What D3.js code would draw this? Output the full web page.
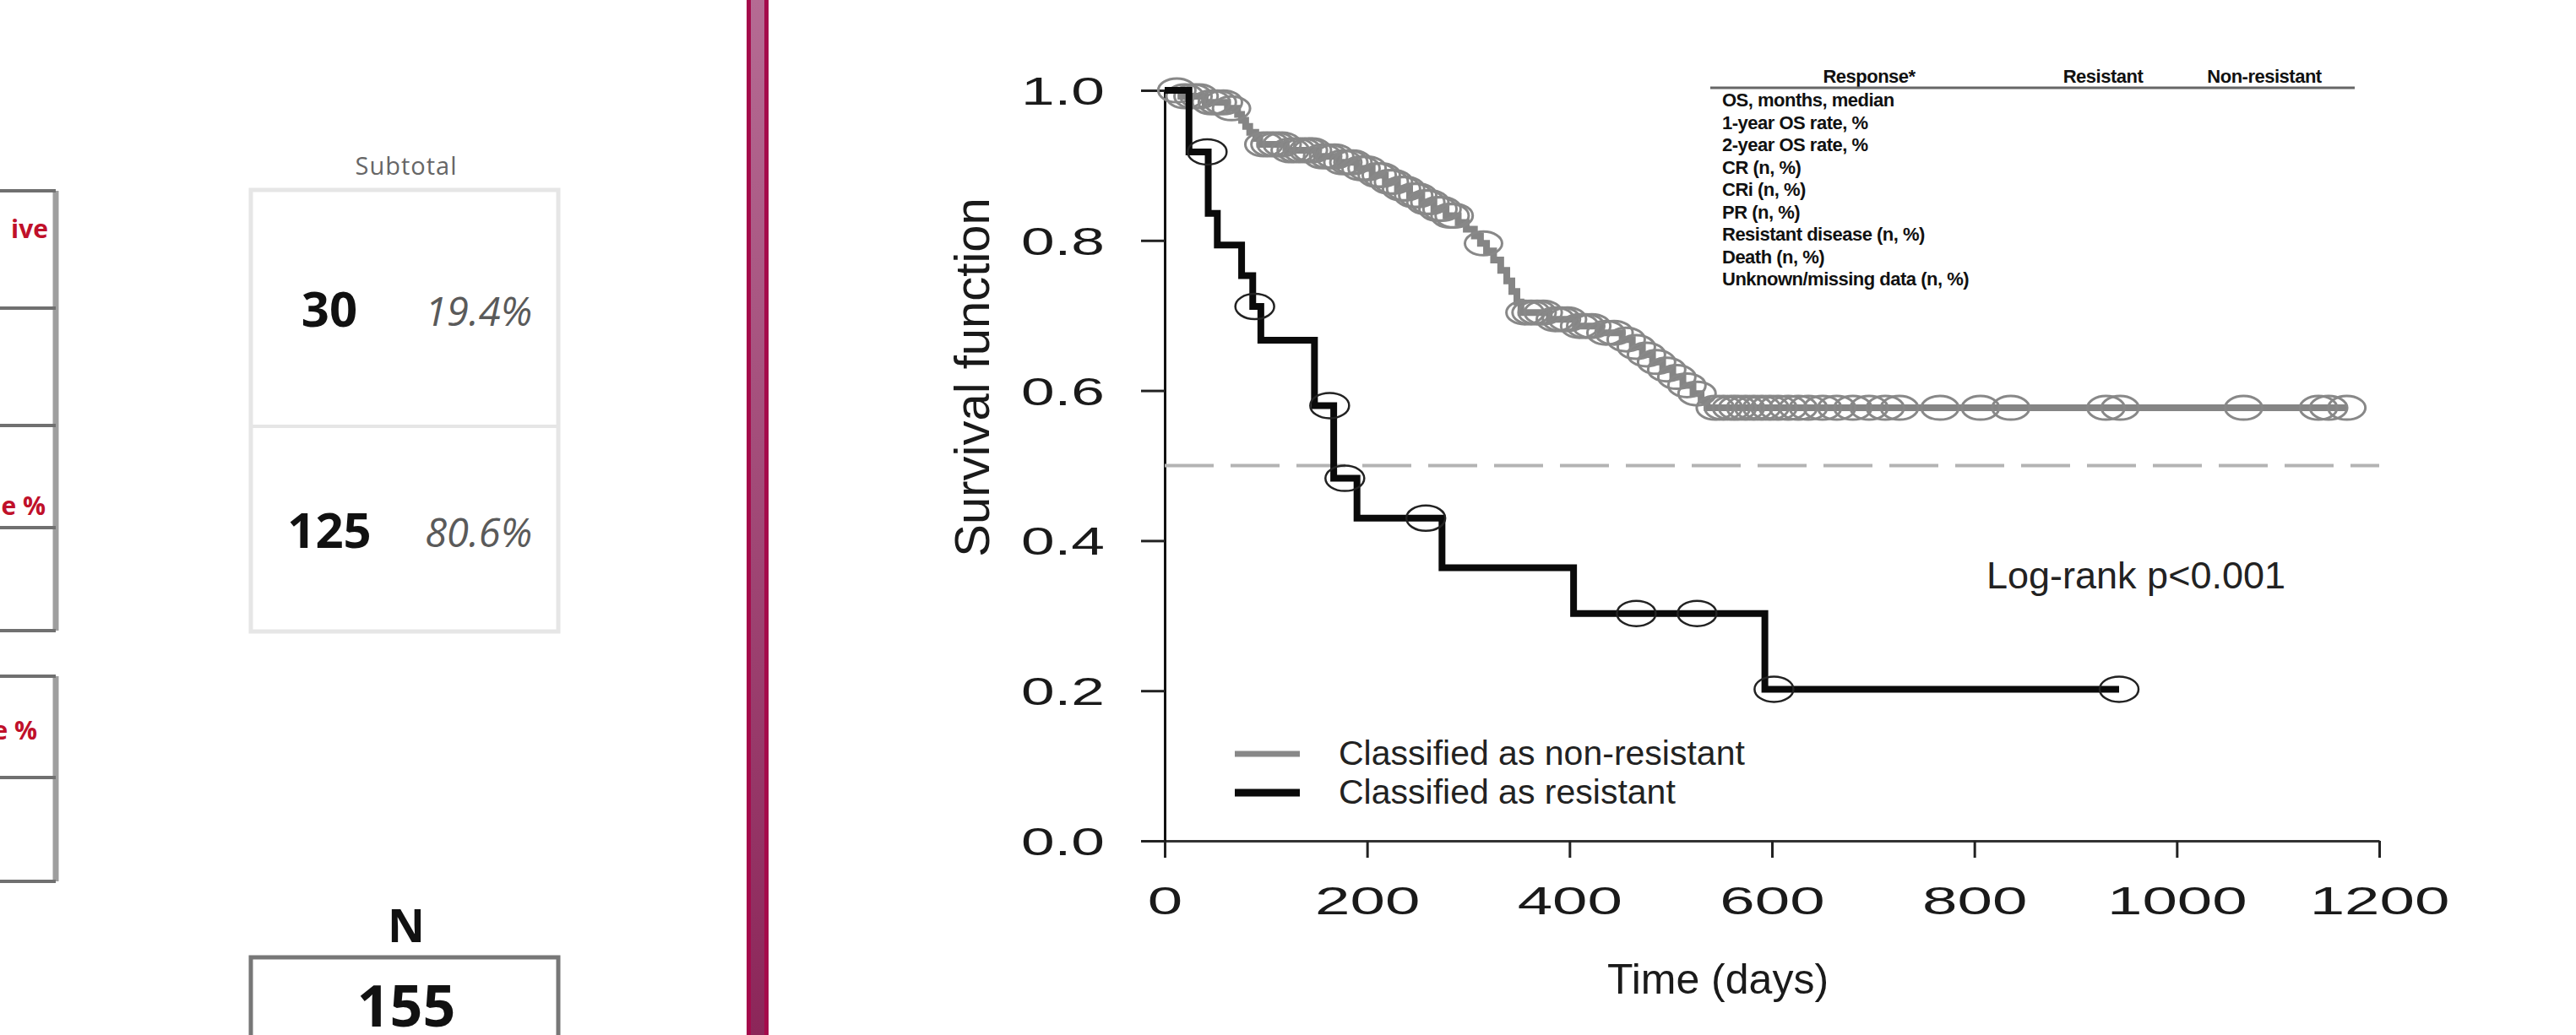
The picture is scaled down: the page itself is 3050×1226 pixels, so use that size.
<!DOCTYPE html>
<html>
<head>
<meta charset="utf-8">
<script src="https://cdn.jsdelivr.net/npm/d3@7"></script>
<style>
body { margin: 0; background: #fff; }
svg { display: block; }
</style>
</head>
<body>
<script>
const width = 3050;
const height = 1226;
const font = "'Liberation Sans', Arial, sans-serif";
const cellFont = "'Open Sans', 'Noto Sans', sans-serif";

// resistant arm (black curve): step times and survival after each step
const resTime = [0, 24, 43, 52, 76, 87, 95, 148, 167, 190, 274, 404, 593];
const resSurv = [1.0, 0.918, 0.836, 0.794, 0.753, 0.712, 0.667, 0.58, 0.483, 0.43, 0.364, 0.303, 0.202];
const resEnd = 943;
const resCensor = [42, 89, 163, 178, 258, 466, 526, 602, 943];

// non-resistant arm (grey curve)
const nonTime = [0, 16, 40, 62, 72, 76, 80, 84, 90, 94, 120, 150, 172, 190, 205, 218, 230, 242, 254, 266, 278,
    290, 298, 306, 312, 318, 325, 332, 338, 343, 348, 352, 380, 406, 430, 452, 462, 472, 482, 492, 502, 512, 522, 530, 536];
const nonSurv = [1.0, 0.992, 0.984, 0.976, 0.968, 0.96, 0.952, 0.944, 0.936, 0.928, 0.92, 0.912, 0.904, 0.896, 0.887, 0.878, 0.869, 0.86, 0.851, 0.842, 0.833,
    0.824, 0.815, 0.806, 0.796, 0.786, 0.774, 0.76, 0.746, 0.732, 0.718, 0.704, 0.695, 0.686, 0.677, 0.668, 0.658, 0.648, 0.638, 0.628, 0.618, 0.607, 0.596, 0.587, 0.577];
const nonEnd = 1168;
const nonCensor = [12, 20, 28, 34, 46, 52, 58, 66, 98, 104, 110, 116, 124, 130, 136, 142, 146, 156, 162, 168,
    176, 182, 186, 194, 200, 210, 214, 222, 226, 234, 238, 246, 250, 258, 262, 270, 274, 282, 286,
    315, 356, 362, 368, 374, 386, 392, 398, 410, 416, 422, 436, 444, 456, 466, 476, 486, 496, 506, 516, 526,
    544, 552, 560, 566, 574, 582, 590, 598, 606, 616, 626, 636, 650, 664, 680, 696, 712, 726, 766, 806, 836,
    930, 944, 1066, 1140, 1150, 1168];

const xTicks = [0, 200, 400, 600, 800, 1000, 1200];
const yTicks = [0, 0.2, 0.4, 0.6, 0.8, 1.0];
const medianLine = 0.5;
const legendLabels = ["Classified as non-resistant", "Classified as resistant"];
const pText = "Log-rank p<0.001";

const tableHead = ["Response*", "Resistant", "Non-resistant"];
const tableRows = ["OS, months, median", "1-year OS rate, %", "2-year OS rate, %", "CR  (n, %)", "CRi (n, %)",
    "PR (n, %)", "Resistant disease (n, %)", "Death (n, %)", "Unknown/missing data (n, %)"];

const subtotalN = [30, 125];
const subtotalPct = ["19.4%", "80.6%"];
const totalN = 155;
const sideLabels = ["ive", "e %", "e %"];

let svg = d3.select("body")
    .append("svg")
    .attr("width", width)
    .attr("height", height)
    .style("background", "#fff");

// ---------- left panel ----------
let left = svg.append("g");

let grad = svg.append("defs").append("linearGradient")
    .attr("id", "barGrad").attr("x1", 0).attr("y1", 0).attr("x2", 0).attr("y2", 1);
grad.append("stop").attr("offset", "0%").attr("stop-color", "#b56b93");
grad.append("stop").attr("offset", "100%").attr("stop-color", "#8c2659");

left.append("rect").attr("x", 884).attr("y", 0).attr("width", 26).attr("height", height).attr("fill", "#a50a4b");
left.append("rect").attr("x", 889).attr("y", 0).attr("width", 16).attr("height", height).attr("fill", "url(#barGrad)");

// fragment of the table cut at the left edge
[[226, 365, 504, 625, 747], [801, 921, 1044]].forEach(function(ys){
    left.append("line")
        .attr("x1", 66).attr("x2", 66)
        .attr("y1", ys[0]).attr("y2", ys[ys.length - 1])
        .attr("stroke", "#9e9e9e").attr("stroke-width", 7);
    left.selectAll(null).data(ys).enter().append("line")
        .attr("x1", 0).attr("x2", 66)
        .attr("y1", (d)=>d).attr("y2", (d)=>d)
        .attr("stroke", "#707070").attr("stroke-width", 4);
});

left.selectAll(".side").data(sideLabels).enter().append("text")
    .attr("class", "side")
    .attr("x", (d, i)=>[57, 54, 44][i])
    .attr("y", (d, i)=>[282, 610, 876][i])
    .attr("text-anchor", "end")
    .attr("font-family", cellFont).attr("font-weight", "bold").attr("font-size", 30)
    .attr("fill", "#c0102a")
    .text((d)=>d);

// subtotal box
left.append("text").attr("x", 481).attr("y", 207).attr("text-anchor", "middle")
    .attr("font-family", cellFont).attr("font-size", 29).attr("letter-spacing", 1)
    .attr("fill", "#666").text("Subtotal");
left.append("rect").attr("x", 297).attr("y", 225).attr("width", 364).attr("height", 523)
    .attr("fill", "none").attr("stroke", "#e6e6e6").attr("stroke-width", 5);
left.append("line").attr("x1", 297).attr("x2", 661).attr("y1", 505).attr("y2", 505)
    .attr("stroke", "#e6e6e6").attr("stroke-width", 4);

let cellY = [387, 649];
left.selectAll(".sn").data(subtotalN).enter().append("text")
    .attr("class", "sn")
    .attr("x", 390).attr("y", (d, i)=>cellY[i])
    .attr("text-anchor", "middle")
    .attr("font-family", cellFont).attr("font-weight", "bold").attr("font-size", 58)
    .attr("fill", "#111").text((d)=>d);
left.selectAll(".sp").data(subtotalPct).enter().append("text")
    .attr("class", "sp")
    .attr("x", 630).attr("y", (d, i)=>cellY[i] - 1)
    .attr("text-anchor", "end")
    .attr("font-family", cellFont).attr("font-style", "italic").attr("font-size", 47)
    .attr("fill", "#5a5a5a").text((d)=>d);

// total box
left.append("text").attr("x", 481).attr("y", 1116).attr("text-anchor", "middle")
    .attr("font-family", cellFont).attr("font-weight", "bold").attr("font-size", 54)
    .attr("fill", "#111").text("N");
left.append("rect").attr("x", 297).attr("y", 1134).attr("width", 364).attr("height", 200)
    .attr("fill", "none").attr("stroke", "#777").attr("stroke-width", 5);
left.append("text").attr("x", 481).attr("y", 1216).attr("text-anchor", "middle")
    .attr("font-family", cellFont).attr("font-weight", "bold").attr("font-size", 68)
    .attr("fill", "#111").text(totalN);

// ---------- survival plot ----------
let x = d3.scaleLinear().domain([0, 1200]).range([1379, 2817]);
let y = d3.scaleLinear().domain([0, 1]).range([996, 107]);

let chart = svg.append("g");

// x axis
let gx = chart.append("g")
    .attr("transform", "translate(0," + y(0) + ")")
    .call(d3.axisBottom(x).tickValues(xTicks).tickSize(20).tickSizeOuter(0).tickFormat(d3.format("d")));
gx.select(".domain").attr("stroke", "#333").attr("stroke-width", 3);
gx.selectAll(".tick line").attr("stroke", "#222").attr("stroke-width", 3);
gx.selectAll(".tick text")
    .attr("y", 87).attr("dy", 0)
    .attr("transform", "scale(1.62,1)")
    .attr("font-family", font).attr("font-size", 46).attr("fill", "#1a1a1a");

// y axis
let gy = chart.append("g")
    .attr("transform", "translate(" + x(0) + ",0)")
    .call(d3.axisLeft(y).tickValues(yTicks).tickSize(28).tickSizeOuter(0).tickFormat(d3.format(".1f")));
gy.select(".domain").attr("stroke", "#111").attr("stroke-width", 3);
gy.selectAll(".tick line").attr("stroke", "#222").attr("stroke-width", 3);
gy.selectAll(".tick text")
    .attr("x", -71 / 1.55).attr("dy", "0.36em")
    .attr("transform", "scale(1.55,1)")
    .attr("font-family", font).attr("font-size", 46).attr("fill", "#1a1a1a");

// median reference line
chart.append("line")
    .attr("x1", x(0)).attr("x2", x(1200))
    .attr("y1", y(medianLine)).attr("y2", y(medianLine))
    .attr("stroke", "#b3b3b3").attr("stroke-width", 4)
    .attr("stroke-dasharray", "58,20");

let step = d3.line()
    .x((d)=>x(d[0]))
    .y((d)=>y(d[1]))
    .curve(d3.curveStepAfter);

function kmPoints(times, surv, end){
    let pts = times.map((t, i)=>[t, surv[i]]);
    pts.push([end, surv[surv.length - 1]]);
    return pts;
}

function survAt(times, surv, t){
    let i = d3.bisectRight(times, t) - 1;
    return surv[Math.max(0, i)];
}

// grey arm
chart.append("path")
    .attr("d", step(kmPoints(nonTime, nonSurv, nonEnd)))
    .attr("fill", "none").attr("stroke", "#858585").attr("stroke-width", 8);
chart.selectAll(".cg").data(nonCensor).enter().append("ellipse")
    .attr("class", "cg")
    .attr("cx", (d)=>x(d)).attr("cy", (d)=>y(survAt(nonTime, nonSurv, d)))
    .attr("rx", 22).attr("ry", 14)
    .attr("fill", "none").attr("stroke", "#888").attr("stroke-width", 3);

// black arm
chart.append("path")
    .attr("d", step(kmPoints(resTime, resSurv, resEnd)))
    .attr("fill", "none").attr("stroke", "#0a0a0a").attr("stroke-width", 8);
chart.selectAll(".cb").data(resCensor).enter().append("ellipse")
    .attr("class", "cb")
    .attr("cx", (d)=>x(d)).attr("cy", (d)=>y(survAt(resTime, resSurv, d)))
    .attr("rx", 23).attr("ry", 15)
    .attr("fill", "none").attr("stroke", "#222").attr("stroke-width", 2.5);

// axis titles
chart.append("text")
    .attr("transform", "translate(1171,447) rotate(-90)")
    .attr("text-anchor", "middle")
    .attr("font-family", font).attr("font-size", 58).attr("fill", "#1a1a1a")
    .text("Survival function");
chart.append("text")
    .attr("x", 2034).attr("y", 1177)
    .attr("text-anchor", "middle")
    .attr("font-family", font).attr("font-size", 50).attr("fill", "#1a1a1a")
    .text("Time (days)");

chart.append("text")
    .attr("x", 2352).attr("y", 697)
    .attr("font-family", font).attr("font-size", 45).attr("fill", "#222")
    .text(pText);

// legend
let legendColors = ["#888", "#0a0a0a"];
let legendWidths = [7, 9];
let legend = chart.selectAll(".leg").data(legendLabels).enter().append("g")
    .attr("class", "leg")
    .attr("transform", (d, i)=>"translate(1462," + (893 + i * 46) + ")");
legend.append("line")
    .attr("x1", 0).attr("x2", 77)
    .attr("stroke", (d, i)=>legendColors[i]).attr("stroke-width", (d, i)=>legendWidths[i]);
legend.append("text")
    .attr("x", 123).attr("y", 13)
    .attr("font-family", font).attr("font-size", 41).attr("fill", "#222")
    .text((d)=>d);

// small response table inside the plot
let tbl = chart.append("g")
    .attr("font-family", font).attr("font-weight", "bold").attr("font-size", 22).attr("fill", "#111");
let headX = [2213, 2490, 2681];
tbl.selectAll(".th").data(tableHead).enter().append("text")
    .attr("class", "th")
    .attr("x", (d, i)=>headX[i]).attr("y", 98)
    .attr("text-anchor", "middle")
    .attr("letter-spacing", -0.5)
    .text((d)=>d);
tbl.append("line").attr("x1", 2025).attr("x2", 2788).attr("y1", 104).attr("y2", 104)
    .attr("stroke", "#666").attr("stroke-width", 3);
tbl.selectAll(".tr").data(tableRows).enter().append("text")
    .attr("class", "tr")
    .attr("x", 2039).attr("y", (d, i)=>126 + i * 26.5)
    .attr("letter-spacing", -0.5)
    .text((d)=>d);
</script>
</body>
</html>
